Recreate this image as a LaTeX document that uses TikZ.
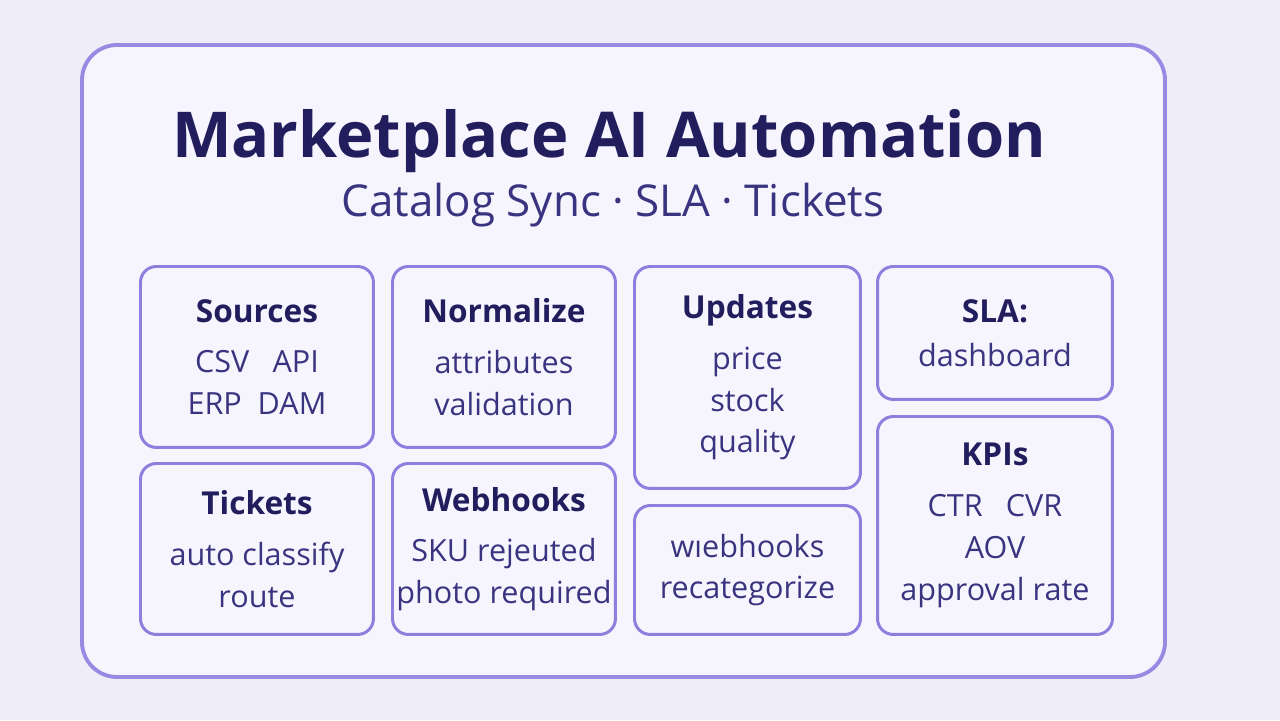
\documentclass[tikz,border=0pt]{standalone}
\usepackage{fontspec}
\setmainfont{Open Sans}
\usetikzlibrary{positioning}

\definecolor{pagebg}{HTML}{EEEDF8}
\definecolor{cardfill}{HTML}{F6F5FD}
\definecolor{cardline}{HTML}{9A89E2}
\definecolor{boxline}{HTML}{8E7EDD}
\definecolor{headink}{HTML}{221E5E}
\definecolor{bodyink}{HTML}{3A3480}

\newcommand{\boxhead}[1]{{\fontsize{18}{23.8}\selectfont\bfseries\color{headink}#1}}

\begin{document}
\begin{tikzpicture}[
    x=0.02cm, y=-0.02cm,
    card/.style={draw=cardline, fill=cardfill, line width=2.2pt, rounded corners=20pt},
    panel/.style={rectangle, draw=boxline, fill=cardfill, line width=1.7pt, rounded corners=9pt,
        anchor=north west, align=center, text=bodyink, inner sep=0pt,
        font=\fontsize{17.4}{23.8}\selectfont},
    title/.style={font=\fontsize{36}{42}\selectfont\bfseries, text=headink, anchor=base},
    subtitle/.style={font=\fontsize{25}{30}\selectfont, text=bodyink, anchor=base}
]
% page and card
\useasboundingbox[fill=pagebg] (0,0) rectangle (1280,720);
\draw[card] (82,45) rectangle (1165,677);

% heading
\node[title] (title) at (609,157) {Marketplace AI Automation};
\node[subtitle] (subtitle) at (613,216) {Catalog Sync · SLA · Tickets};

% top row
\node[panel, minimum width=4.66cm, minimum height=3.62cm] (src) at (139,265)
    {\boxhead{Sources}\\[5pt] CSV\enspace\ API\\ ERP\ \ DAM};
\node[panel, minimum width=4.46cm, minimum height=3.62cm] (norm) at (391,265)
    {\boxhead{Normalize}\\[5pt] attributes\\ validation};
\node[panel, minimum width=4.52cm, minimum height=4.44cm] (upd) at (633,265)
    {\boxhead{Updates}\\[5pt] price\\ stock\\ quality};
\node[panel, minimum width=4.70cm, minimum height=2.66cm] (sla) at (876,265)
    {\boxhead{SLA:}\\[1pt] dashboard};

% bottom row
\node[panel, minimum width=4.66cm, minimum height=3.42cm] (tick) at (139,462)
    {\boxhead{Tickets}\\[5pt] auto classify\\ route};
\node[panel, minimum width=4.46cm, minimum height=3.42cm] (hook) at (391,462)
    {\boxhead{Webhooks}\\[5pt] SKU rejeuted\\ photo required};
\node[panel, minimum width=4.52cm, minimum height=2.58cm] (recat) at (633,504)
    {wıebhooks\\ recategorize};
\node[panel, minimum width=4.70cm, minimum height=4.36cm] (kpi) at (876,415)
    {\boxhead{KPIs}\\[5pt] CTR\enspace\ CVR\\ AOV\\ approval rate};
\end{tikzpicture}
\end{document}
